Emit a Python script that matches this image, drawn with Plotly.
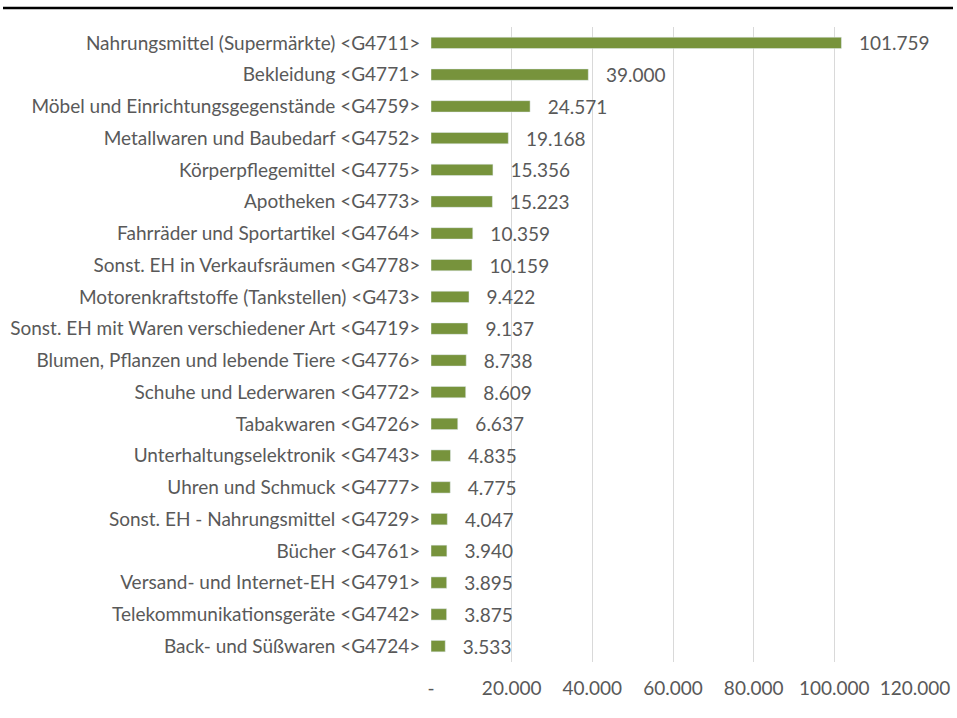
import plotly.graph_objects as go

categories = [
    "Nahrungsmittel (Supermärkte) <G4711>",
    "Bekleidung <G4771>",
    "Möbel und Einrichtungsgegenstände <G4759>",
    "Metallwaren und Baubedarf <G4752>",
    "Körperpflegemittel <G4775>",
    "Apotheken <G4773>",
    "Fahrräder und Sportartikel <G4764>",
    "Sonst. EH in Verkaufsräumen <G4778>",
    "Motorenkraftstoffe (Tankstellen) <G473>",
    "Sonst. EH mit Waren verschiedener Art <G4719>",
    "Blumen, Pflanzen und lebende Tiere <G4776>",
    "Schuhe und Lederwaren <G4772>",
    "Tabakwaren <G4726>",
    "Unterhaltungselektronik <G4743>",
    "Uhren und Schmuck <G4777>",
    "Sonst. EH - Nahrungsmittel <G4729>",
    "Bücher <G4761>",
    "Versand- und Internet-EH <G4791>",
    "Telekommunikationsgeräte <G4742>",
    "Back- und Süßwaren <G4724>",
]
values = [101759, 39000, 24571, 19168, 15356, 15223, 10359, 10159, 9422, 9137,
          8738, 8609, 6637, 4835, 4775, 4047, 3940, 3895, 3875, 3533]
tick_vals = [0, 20000, 40000, 60000, 80000, 100000, 120000]
tick_text = ["-", "20.000", "40.000", "60.000", "80.000", "100.000", "120.000"]

FONT = "Lato"
FS = 19
GRAY = "#595959"

fig = go.Figure(go.Bar(
    x=values, y=categories, orientation="h",
    marker=dict(color="#77933C"),
    texttemplate="   %{x:,.0f}", textposition="outside",
    constraintext="none",
    textfont=dict(family=FONT, size=FS, color=GRAY),
    cliponaxis=False, width=0.36,
    hoverinfo="skip",
))

W, H = 957, 718
ml, mr, mt, mb = 431, 42, 27, 56
pw = W - ml - mr
ph = H - mt - mb

fig.update_layout(
    width=W, height=H,
    margin=dict(l=ml, r=mr, t=mt, b=mb, pad=0, autoexpand=False),
    paper_bgcolor="white", plot_bgcolor="white",
    separators=",.",
    showlegend=False,
    font=dict(family=FONT, size=FS, color=GRAY),
    xaxis=dict(range=[0, 120000], tickvals=tick_vals, ticktext=tick_text,
               showgrid=True, gridcolor="#D9D9D9", gridwidth=1,
               zeroline=False, showline=False,
               ticks="outside", ticklen=9, tickcolor="rgba(0,0,0,0)",
               automargin=False,
               tickfont=dict(family=FONT, size=FS, color=GRAY)),
    yaxis=dict(autorange="reversed", showgrid=False, zeroline=False,
               showline=False, ticks="outside", ticklen=6, tickcolor="rgba(0,0,0,0)",
               automargin=False,
               tickfont=dict(family=FONT, size=FS, color=GRAY)),
    shapes=[dict(type="line", xref="paper", yref="paper",
                 x0=(3 - ml) / pw, x1=(953 - ml) / pw,
                 y0=1 + (mt - 8) / ph, y1=1 + (mt - 8) / ph,
                 line=dict(color="black", width=2.5))],
)

fig.write_html("out.html",
               config={"displayModeBar": False},
               post_script="document.body.style.margin='0';document.body.style.overflow='hidden';")
